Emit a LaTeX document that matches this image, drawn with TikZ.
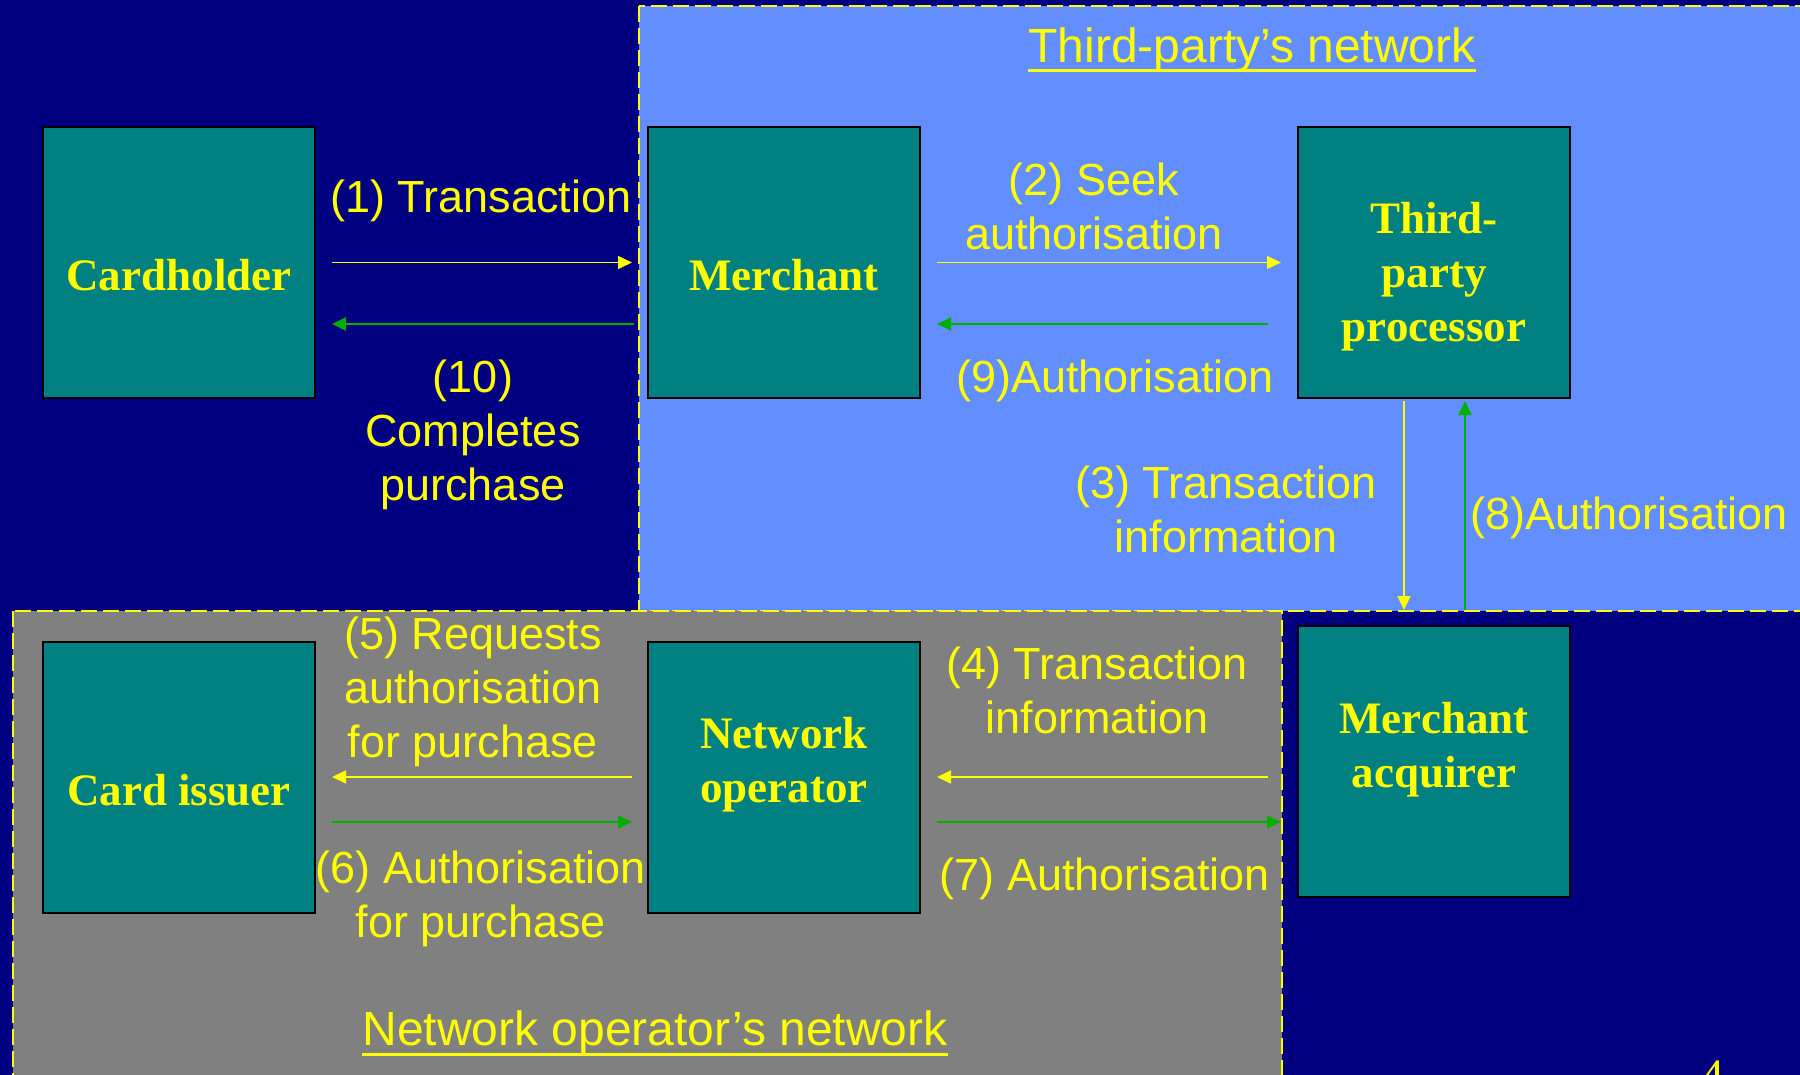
\documentclass[tikz,border=0pt]{standalone}
\usepackage{fontspec}
\setmainfont{Liberation Sans}
\newfontfamily\boxfont{Liberation Serif}
\usetikzlibrary{arrows.meta,calc}
\definecolor{navybg}{RGB}{0,0,128}
\definecolor{tpblue}{RGB}{99,142,255}
\definecolor{netgray}{RGB}{128,128,128}
\definecolor{tealbox}{RGB}{0,128,128}
\definecolor{ylw}{RGB}{255,255,0}
\definecolor{grn}{RGB}{0,176,0}
\tikzset{
  region/.style={draw=ylw,line width=1pt,dash pattern=on 8pt off 3pt},
  entity/.style={draw=black,line width=1pt,fill=tealbox,minimum width=136pt,minimum height=135.5pt,inner sep=0pt},
  entlabel/.style={text=ylw,font=\boxfont\bfseries\fontsize{22.5}{27}\selectfont,align=center,inner sep=0pt},
  lbl/.style={text=ylw,font=\fontsize{22.5}{27}\selectfont,align=center,inner sep=0pt},
  title/.style={text=ylw,font=\fontsize{24}{28}\selectfont,inner sep=0pt,anchor=base},
  uline/.style={draw=ylw,line width=1.5pt},
  ya/.style={draw=ylw,line width=0.8pt,-{Triangle[length=7pt,width=6.5pt]}},
  ga/.style={draw=grn,line width=1pt,-{Triangle[length=7pt,width=6.5pt]}}
}
\begin{document}
\begin{tikzpicture}[x=0.5pt,y=-0.5pt]
\useasboundingbox (0,0) rectangle (1800,1075);
\fill[navybg] (0,0) rectangle (1800,1075);
% regions
\begin{scope}
\clip (0,0) rectangle (1800,1075);
\filldraw[region,fill=tpblue] (639,6) rectangle (1830,611);
\filldraw[region,fill=netgray] (13,611) rectangle (1282,1100);
\end{scope}
\node[title] (t1) at (1252,63) {Third-party’s network};
\draw[uline] ($(t1.base west)+(0,8)$) -- ($(t1.base east)+(0,8)$);
\node[title] (t2) at (655,1045) {Network operator’s network};
\draw[uline] ($(t2.base west)+(0,9)$) -- ($(t2.base east)+(0,9)$);
% entities
\node[entity] (ch) at (179,262.5) {};
\node[entity] (me) at (784,262.5) {};
\node[entity] (tp) at (1434,262.5) {};
\node[entity] (ci) at (179,777) {};
\node[entity] (no) at (784,777) {};
\node[entity] (aq) at (1434,761.5) {};
\node[entlabel] (chl) at ($(ch.center)+(0,13)$) {Cardholder};
\node[entlabel] (mel) at ($(me.center)+(0,13)$) {Merchant};
\node[entlabel] (tpl) at ($(tp.center)+(0,14)$) {Third-\\party\\processor};
\node[entlabel] (cil) at ($(ci.center)+(0,13)$) {Card issuer};
\node[entlabel] (nol) at ($(no.center)+(0,-12)$) {Network\\operator};
\node[entlabel] (aql) at ($(aq.center)+(0,-12)$) {Merchant\\acquirer};
% arrows
\coordinate (s1) at ($(ch.east)+(16,0)$);
\draw[ya] (s1) -- ($(s1 -| me.west)+(-15,0)$);
\coordinate (s10) at ($(me.west)+(-13,61.5)$);
\draw[ga] (s10) -- ($(s10 -| ch.east)+(16,0)$);
\coordinate (s2) at ($(me.east)+(16,0)$);
\draw[ya] (s2) -- ($(s2 -| tp.west)+(-16,0)$);
\coordinate (s9) at ($(tp.west)+(-29,61.5)$);
\draw[ga] (s9) -- ($(s9 -| me.east)+(16,0)$);
\coordinate (s3) at ($(tp.south)+(-30,2)$);
\draw[ya] (s3) -- ($(s3 |- aq.north)+(0,-15)$);
\coordinate (s8) at ($(aq.north)+(31,-15)$);
\draw[ga] (s8) -- ($(s8 |- tp.south)+(0,2)$);
\coordinate (s5) at ($(no.west)+(-15,0)$);
\draw[ya] (s5) -- ($(s5 -| ci.east)+(16,0)$);
\coordinate (s6) at ($(ci.east)+(16,45)$);
\draw[ga] (s6) -- ($(s6 -| no.west)+(-15,0)$);
\coordinate (s4) at ($(no.east)+(0,0)$);
\coordinate (s4b) at ($(s4 -| aq.west)+(-29,0)$);
\draw[ya] (s4b) -- ($(s4)+(16,0)$);
\coordinate (s7) at ($(no.east)+(16,45)$);
\draw[ga] (s7) -- ($(s7 -| aq.west)+(-16,0)$);
% labels
\node[lbl] (l1) at (481,201) {(1) Transaction};
\node[lbl] (l10) at (473,435) {(10)\\Completes\\purchase};
\node[lbl] (l2) at (1094,206) {(2) Seek\\authorisation};
\node[lbl] (l9) at (1115,381) {(9)Authorisation};
\node[lbl] (l3) at (1226,509) {(3) Transaction\\information};
\node[lbl] (l8) at (1629,518) {(8)Authorisation};
\node[lbl] (l5) at (473,692) {(5) Requests\\authorisation\\for purchase};
\node[lbl] (l6) at (481,899) {(6) Authorisation\\for purchase};
\node[lbl] (l4) at (1097,690) {(4) Transaction\\information};
\node[lbl] (l7) at (1105,879) {(7) Authorisation};
\node[text=ylw,font=\boxfont\fontsize{24}{28}\selectfont,inner sep=0pt,anchor=north] (pg) at (1712,1060) {4};
\end{tikzpicture}
\end{document}
